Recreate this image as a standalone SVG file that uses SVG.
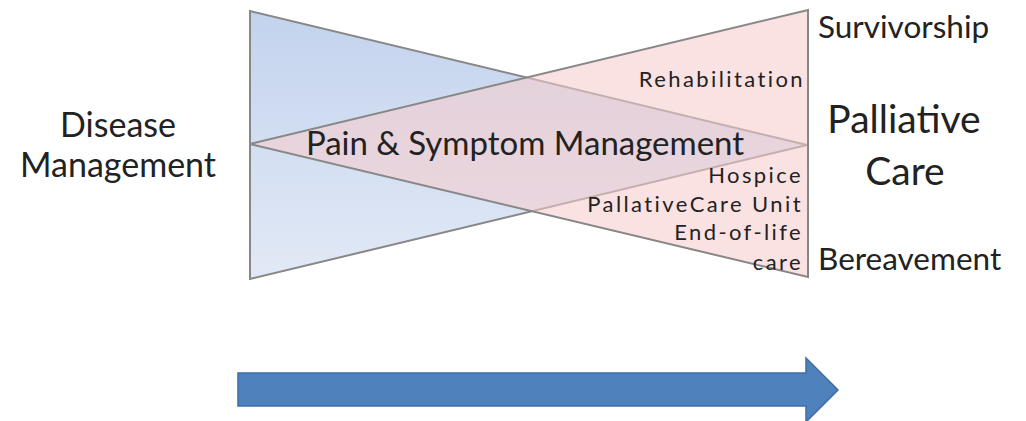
<svg xmlns="http://www.w3.org/2000/svg" width="1026" height="421" viewBox="0 0 1026 421">
<defs>
<linearGradient id="blueGrad" x1="0" y1="0" x2="0" y2="1">
<stop offset="0" stop-color="#c3d3ed"/>
<stop offset="1" stop-color="#e2e9f6"/>
</linearGradient>
<style>
.tri{stroke:#878787;stroke-width:2;stroke-linejoin:miter}
.t{font-family:Lato,"Liberation Sans",sans-serif;fill:#222222}
.dm{font-size:34px}
.pc{font-size:39px}
.mid{font-size:33px}
.sm{font-size:22px;letter-spacing:2.4px}
.lbl{font-size:31.5px}
</style>
</defs>
<rect width="1026" height="421" fill="#ffffff"/>
<g id="disease-triangle">
<polygon class="tri" points="250,11 250,279 807,145" fill="url(#blueGrad)"/>
</g>
<g id="palliative-triangle">
<polygon class="tri" points="808,10 808,277 250,144" fill="#f6cccc" fill-opacity="0.57"/>
</g>
<g id="disease-management">
<text class="t dm" x="118" y="137" text-anchor="middle">Disease</text>
<text class="t dm" x="118" y="177" text-anchor="middle">Management</text>
</g>
<g id="pain-symptom">
<text class="t mid" x="525" y="155" text-anchor="middle">Pain &amp; Symptom Management</text>
</g>
<g id="rehabilitation">
<text class="t sm" x="805" y="87" text-anchor="end">Rehabilitation</text>
</g>
<g id="end-of-life-services">
<text class="t sm" x="803" y="183" text-anchor="end">Hospice</text>
<text class="t sm" x="803" y="212" text-anchor="end">PallativeCare Unit</text>
<text class="t sm" x="803" y="240" text-anchor="end">End-of-life</text>
<text class="t sm" x="803" y="270" text-anchor="end">care</text>
</g>
<g id="survivorship">
<text class="t lbl" x="818" y="38">Survivorship</text>
</g>
<g id="palliative-care">
<text class="t pc" x="904" y="133" text-anchor="middle">Palliative</text>
<text class="t pc" x="905" y="185" text-anchor="middle">Care</text>
</g>
<g id="bereavement">
<text class="t lbl" x="818" y="270">Bereavement</text>
</g>
<g id="connectors">
<polygon points="238,373 806,373 806,358 838,390 806,422 806,406 238,406" fill="#4f81bd" stroke="#3d6da6" stroke-width="1.5"/>
</g>
</svg>
